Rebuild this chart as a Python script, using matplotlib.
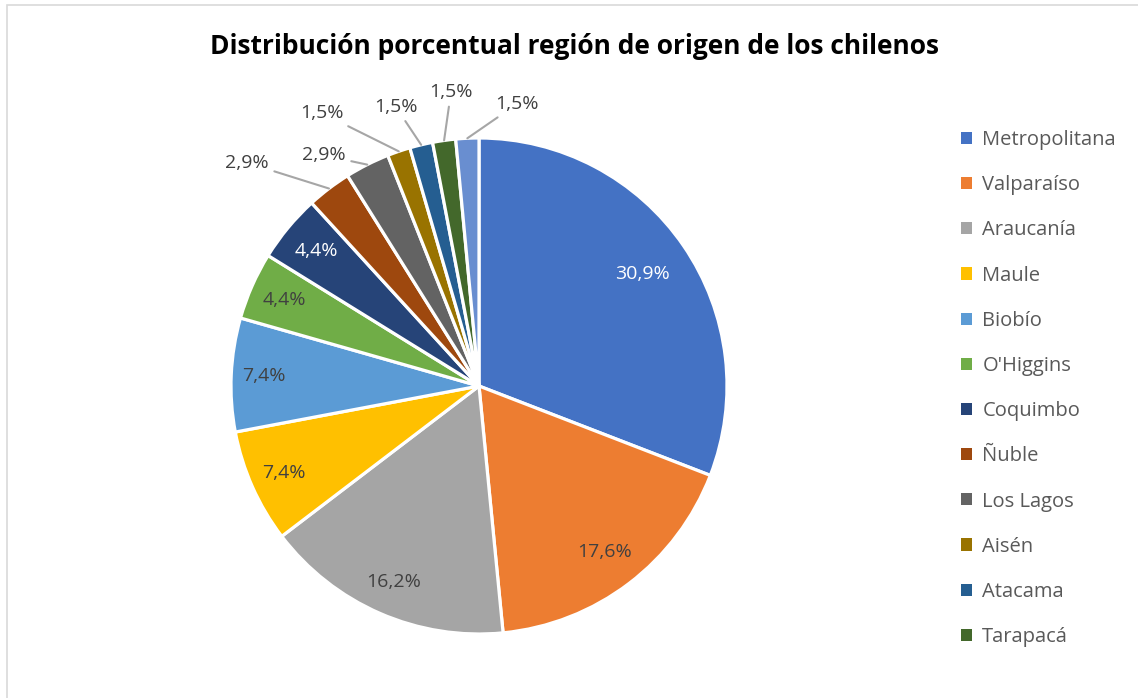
import matplotlib.pyplot as plt
from matplotlib.patches import Rectangle
import numpy as np

# Data
regions = ["Metropolitana", "Valparaíso", "Araucanía", "Maule", "Biobío", "O'Higgins",
           "Coquimbo", "Ñuble", "Los Lagos", "Aisén", "Atacama", "Tarapacá", "Los Ríos"]
percent = [30.9, 17.6, 16.2, 7.4, 7.4, 4.4, 4.4, 2.9, 2.9, 1.5, 1.5, 1.5, 1.5]
colors = ["#4472C4", "#ED7D31", "#A5A5A5", "#FFC000", "#5B9BD5", "#70AD47",
          "#264478", "#9E480E", "#636363", "#997300", "#255E91", "#43682B", "#698ED0"]

# label layout: inside labels (radius, text colour) / outside labels (x, y)
inside = {0: (0.80, "white"), 1: (0.84, "#404040"), 2: (0.86, "#404040"),
          3: (0.86, "#404040"), 4: (0.87, "#404040"), 5: (0.86, "#404040"),
          6: (0.85, "white")}
outside = {7: (-0.935, 0.90), 8: (-0.625, 0.93), 9: (-0.633, 1.10),
           10: (-0.335, 1.125), 11: (-0.113, 1.185), 12: (0.153, 1.137)}

FONT = "Open Sans"
W, H = 1138, 698
fig = plt.figure(figsize=(W / 100, H / 100), dpi=100)

# light frame like the original chart area
fig.add_artist(Rectangle((7 / W, -0.01), 1.2, (H - 5) / H + 0.01, transform=fig.transFigure,
                         fill=False, edgecolor="#D9D9D9", linewidth=1.2))

R = 248
cx, cy = 479, 386
xlim = (-1.6, 1.6)
ylim = (-1.25, 1.5)
left = (cx + xlim[0] * R) / W
bottom = (H - (cy - ylim[0] * R)) / H
ax = fig.add_axes([left, bottom, (xlim[1] - xlim[0]) * R / W, (ylim[1] - ylim[0]) * R / H])

wedges, _ = ax.pie(percent, colors=colors, startangle=90, counterclock=False,
                   wedgeprops=dict(edgecolor="white", linewidth=2.3))
ax.set_xlim(*xlim)
ax.set_ylim(*ylim)
ax.set_aspect("equal")
ax.axis("off")

LBL = 14
total = sum(percent)
cum = np.cumsum([0] + percent)
for i, p in enumerate(percent):
    mid = np.deg2rad(90 - 360 * (cum[i] + p / 2) / total)
    txt = f"{p:.1f}%".replace(".", ",")
    if i in inside:
        r, c = inside[i]
        ax.text(r * np.cos(mid), r * np.sin(mid), txt, ha="center", va="center",
                fontsize=LBL, color=c, family=FONT)
    else:
        lx, ly = outside[i]
        ax.annotate(txt, xy=(np.cos(mid), np.sin(mid)), xytext=(lx, ly),
                    ha="center", va="center", fontsize=LBL, color="#404040", family=FONT,
                    arrowprops=dict(arrowstyle="-", color="#A6A6A6", lw=1.5,
                                    shrinkA=2, shrinkB=0))

fig.text(0.5 * (205 + 945) / W, 1 - 46 / H, "Distribución porcentual región de origen de los chilenos",
         ha="center", va="center", fontsize=19, fontweight="bold", family=FONT, color="black")

handles = [Rectangle((0, 0), 1, 1, facecolor=c) for c in colors[:12]]
leg = fig.legend(handles, regions[:12], loc="upper left", bbox_to_anchor=(943 / W, 1 - 112 / H),
                 frameon=False, handlelength=0.55, handleheight=0.55,
                 handletextpad=0.5, labelspacing=1.25, prop={"family": FONT, "size": 14.5})
for t in leg.get_texts():
    t.set_color("#595959")

fig.savefig("out.png", dpi=100)
